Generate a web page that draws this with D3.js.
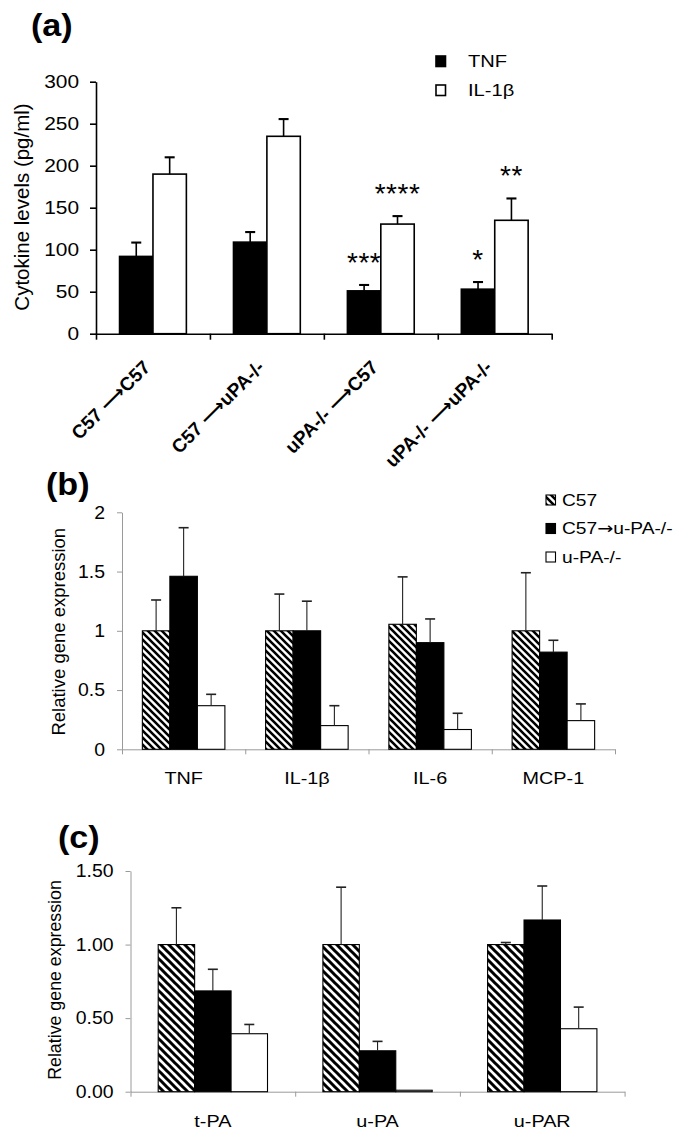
<!DOCTYPE html>
<html><head><meta charset="utf-8">
<script src="https://cdn.jsdelivr.net/npm/d3@7"></script>
<style>
html,body{margin:0;padding:0;background:#fff;}
svg{display:block;font-family:"Liberation Sans",Arial,Helvetica,sans-serif;}
</style></head>
<body><svg id="chart" width="685" height="1143"></svg>
<script>
// ---------- Panel (a) data ----------
const catsA = ["C57 → C57", "C57 → uPA-/-", "uPA-/- → C57", "uPA-/- → uPA-/-"];
const seriesA = ["TNF", "IL-1β"];
const tnfA = [92, 109, 51, 53];
const tnfErrA = [16.5, 12, 7, 8.5];
const il1bA = [190, 235, 130.5, 135];
const il1bErrA = [20, 20.5, 9.5, 26];
const starsTnfA = ["", "", "***", "*"];
const starsIl1bA = ["", "", "****", "**"];
const ticksA = [0, 50, 100, 150, 200, 250, 300];

// ---------- Panel (b) data ----------
const genesB = ["TNF", "IL-1β", "IL-6", "MCP-1"];
const seriesB = ["C57", "C57→u-PA-/-", "u-PA-/-"];
const c57B = [1.0, 1.0, 1.055, 1.0];
const c57ErrB = [0.26, 0.31, 0.40, 0.49];
const chimB = [1.46, 1.0, 0.9, 0.82];
const chimErrB = [0.41, 0.25, 0.2, 0.1];
const koB = [0.368, 0.2, 0.167, 0.242];
const koErrB = [0.096, 0.168, 0.137, 0.141];
const ticksB = [0, 0.5, 1, 1.5, 2];

// ---------- Panel (c) data ----------
const genesC = ["t-PA", "u-PA", "u-PAR"];
const c57C = [1.0, 1.0, 1.0];
const c57ErrC = [0.25, 0.39, 0.014];
const chimC = [0.685, 0.278, 1.167];
const chimErrC = [0.147, 0.064, 0.231];
const koC = [0.394, 0.01, 0.428];
const koErrC = [0.063, 0, 0.147];
const ticksC = [0, 0.5, 1.0, 1.5];

const svg = d3.select("#chart");
const FONT = '"Liberation Sans",Arial,Helvetica,sans-serif';
const ARROWFONT = '"DejaVu Sans",sans-serif';
const GRAY = "#9a9a9a";

function stretch(sel, sx) {
  sel.each(function () {
    const t = d3.select(this);
    const x = +t.attr("x") || 0, y = +t.attr("y") || 0;
    t.attr("transform", `translate(${x},${y}) scale(${sx},1) translate(${-x},${-y})`);
  });
}

// writes a string into a text element, drawing the arrow with a chosen glyph
function arrowText(t, str, glyph) {
  const parts = str.split("→");
  parts.forEach((p, i) => {
    if (i > 0) t.append("tspan").attr("font-family", ARROWFONT).text(glyph);
    t.append("tspan").text(p);
  });
  return t;
}

// hatch patterns
const defs = svg.append("defs");
function hatch(id, s, w) {
  const p = defs.append("pattern").attr("id", id).attr("patternUnits", "userSpaceOnUse")
    .attr("width", s).attr("height", s);
  p.append("rect").attr("width", s).attr("height", s).attr("fill", "#fff");
  p.append("path").attr("d", `M${-s},0 L${s},${2 * s} M0,${-s} L${2 * s},${s} M${-s},${-s} L${2*s},${2*s}`)
    .attr("stroke", "#000").attr("stroke-width", w);
}
hatch("hatchB", 7, 2.6);
hatch("hatchC", 8, 3);

function panelLabel(txt, x, y) {
  const t = svg.append("text").attr("x", x).attr("y", y).text(txt)
    .attr("font-size", 31).attr("font-weight", "bold").attr("font-family", FONT);
  stretch(t, 1.1);
}

function yLabel(txt, x, y, fs) {
  svg.append("text").attr("transform", `translate(${x},${y}) rotate(-90)`)
    .attr("text-anchor", "middle").attr("dominant-baseline", "middle")
    .attr("font-size", fs).attr("font-family", FONT).text(txt);
}

function drawBars(g, x0, x1, y, cats, values, errs, fills, sw, errColor, errW, capW) {
  values.forEach((vals, si) => {
    const gs = g.append("g");
    gs.selectAll("rect").data(vals).join("rect")
      .attr("x", (d, i) => x0(cats[i]) + x1(si))
      .attr("y", d => y(d))
      .attr("width", x1.bandwidth())
      .attr("height", d => y(0) - y(d))
      .attr("fill", fills[si]).attr("stroke", "#000").attr("stroke-width", sw);
    const eb = gs.append("g");
    vals.forEach((d, i) => {
      const e = errs[si][i];
      if (!e) return;
      const cx = x0(cats[i]) + x1(si) + x1.bandwidth() / 2;
      eb.append("line").attr("x1", cx).attr("x2", cx).attr("y1", y(d)).attr("y2", y(d + e))
        .attr("stroke", errColor).attr("stroke-width", errW);
      eb.append("line").attr("x1", cx - capW / 2).attr("x2", cx + capW / 2).attr("y1", y(d + e)).attr("y2", y(d + e))
        .attr("stroke", errColor).attr("stroke-width", errW + 0.5);
    });
  });
}

// ================= Panel (a) =================
{
  const g = svg.append("g");
  const y = d3.scaleLinear().domain([0, 300]).range([333.7, 81.7]);
  const x0 = d3.scaleBand().domain(catsA).range([96, 551.7]).paddingInner(0).paddingOuter(0);
  const x1 = d3.scaleBand().domain([0, 1]).range([0, x0.bandwidth()]).paddingOuter(0.705).paddingInner(0);

  drawBars(g, x0, x1, y, catsA, [tnfA, il1bA], [tnfErrA, il1bErrA], ["#000", "#fff"], 1.6, "#000", 1.6, 10);

  // y axis
  const ya = g.append("g").attr("transform", "translate(96,0)")
    .call(d3.axisLeft(y).tickValues(ticksA).tickSize(6).tickSizeOuter(0).tickPadding(11));
  ya.select(".domain").attr("stroke", "#000").attr("stroke-width", 1.6);
  ya.selectAll(".tick line").attr("stroke", "#000").attr("stroke-width", 1.6);
  ya.selectAll(".tick text").attr("font-size", 19).attr("font-family", FONT).attr("fill", "#000");
  stretch(ya.selectAll(".tick text"), 1.1);

  // x axis with boundary ticks
  const xb = d3.scaleLinear().domain([0, catsA.length]).range(x0.range());
  const xa = g.append("g").attr("transform", "translate(0,333.7)")
    .call(d3.axisBottom(xb).tickValues(d3.range(catsA.length + 1)).tickFormat("").tickSize(6).tickSizeOuter(0));
  xa.select(".domain").attr("stroke", "#000").attr("stroke-width", 1.6);
  xa.selectAll(".tick line").attr("stroke", "#000").attr("stroke-width", 1.6);

  // rotated category labels
  catsA.forEach(c => {
    const cx = x0(c) + x0.bandwidth() / 2 - 1.5;
    const t = g.append("text").attr("transform", `translate(${cx},368.5) rotate(-45)`)
      .attr("text-anchor", "end").attr("font-size", 19).attr("font-weight", "bold")
      .attr("font-family", FONT);
    arrowText(t, c.replace(/ → /g, " →"), "⟶");
  });

  // significance stars
  [[starsTnfA, tnfA, tnfErrA], [starsIl1bA, il1bA, il1bErrA]].forEach(([st, v, e], si) => {
    st.forEach((s, i) => {
      if (!s) return;
      const cx = x0(catsA[i]) + x1(si) + x1.bandwidth() / 2;
      g.append("text").attr("x", cx).attr("y", y(v[i] + e[i]) - 13)
        .attr("text-anchor", "middle").attr("font-size", 28).attr("letter-spacing", 0.5)
        .attr("font-family", FONT).text(s);
    });
  });

  // legend
  const lg = g.append("g");
  const lfill = ["#000", "#fff"];
  seriesA.forEach((s, i) => {
    const yy = 56 + i * 29;
    lg.append("rect").attr("x", 436).attr("y", yy).attr("width", 9.5).attr("height", 10.5)
      .attr("fill", lfill[i]).attr("stroke", "#000").attr("stroke-width", 1.6);
    const t = lg.append("text").attr("x", 468).attr("y", yy + 10.8).attr("font-size", 16.5)
      .attr("font-family", FONT).text(s);
    stretch(t, 1.22);
  });

  yLabel("Cytokine levels (pg/ml)", 24, 207, 20.5);
  panelLabel("(a)", 31, 36);
}

// generic panel for (b) & (c)
function genePanel(opts) {
  const g = svg.append("g");
  const y = d3.scaleLinear().domain(opts.domain).range(opts.yRange);
  const x0 = d3.scaleBand().domain(opts.cats).range(opts.xRange).paddingInner(0).paddingOuter(0);
  const x1 = d3.scaleBand().domain([0, 1, 2]).range([0, x0.bandwidth()]).paddingOuter(opts.pad).paddingInner(0);

  const ya = g.append("g").attr("transform", `translate(${opts.xRange[0]},0)`)
    .call(d3.axisLeft(y).tickValues(opts.ticks).tickFormat(opts.fmt).tickSize(5).tickSizeOuter(0).tickPadding(12));
  ya.select(".domain").attr("stroke", GRAY).attr("stroke-width", 1);
  ya.selectAll(".tick line").attr("stroke", GRAY).attr("stroke-width", 1);
  ya.selectAll(".tick text").attr("font-size", 18).attr("font-family", FONT).attr("fill", "#000");
  stretch(ya.selectAll(".tick text"), 1.08);

  const xb = d3.scaleLinear().domain([0, opts.cats.length]).range(opts.xRange);
  const xa = g.append("g").attr("transform", `translate(0,${opts.yRange[0]})`)
    .call(d3.axisBottom(xb).tickValues(d3.range(opts.cats.length + 1)).tickFormat("").tickSize(5).tickSizeOuter(0));
  xa.select(".domain").attr("stroke", GRAY).attr("stroke-width", 1);
  xa.selectAll(".tick line").attr("stroke", GRAY).attr("stroke-width", 1);

  drawBars(g, x0, x1, y, opts.cats, opts.values, opts.errs, opts.fills, 1.1, "#222", 1.1, 10);

  opts.cats.forEach(c => {
    const t = g.append("text").attr("x", x0(c) + x0.bandwidth() / 2).attr("y", opts.labY)
      .attr("text-anchor", "middle").attr("font-size", 16.5).attr("font-family", FONT).text(c);
    stretch(t, 1.2);
  });
  return g;
}

// ================= Panel (b) =================
{
  const g = genePanel({
    domain: [0, 2], yRange: [749.3, 512.3], xRange: [122, 615], cats: genesB, pad: 0.74,
    ticks: ticksB, fmt: d => d3.format("")(d), values: [c57B, chimB, koB],
    errs: [c57ErrB, chimErrB, koErrB], fills: ["url(#hatchB)", "#000", "#fff"], labY: 784
  });
  const lfill = ["url(#hatchB)", "#000", "#fff"];
  seriesB.forEach((s, i) => {
    const yy = 495 + i * 28.5;
    g.append("rect").attr("x", 546).attr("y", yy).attr("width", 9.5).attr("height", 10)
      .attr("fill", lfill[i]).attr("stroke", "#000").attr("stroke-width", 1.1);
    const t = g.append("text").attr("x", 562).attr("y", yy + 11).attr("font-size", 16)
      .attr("font-family", FONT);
    arrowText(t, s, "→");
    stretch(t, 1.2);
  });
  yLabel("Relative gene expression", 60, 631.7, 18.5);
  panelLabel("(b)", 46, 495);
}

// ================= Panel (c) =================
{
  genePanel({
    domain: [0, 1.5], yRange: [1091.7, 871], xRange: [130.5, 624.6], cats: genesC, pad: 0.76,
    ticks: ticksC, fmt: d3.format(".2f"), values: [c57C, chimC, koC],
    errs: [c57ErrC, chimErrC, koErrC], fills: ["url(#hatchC)", "#000", "#fff"], labY: 1127
  });
  yLabel("Relative gene expression", 56, 980, 17.8);
  panelLabel("(c)", 58, 848);
}
</script></body></html>
